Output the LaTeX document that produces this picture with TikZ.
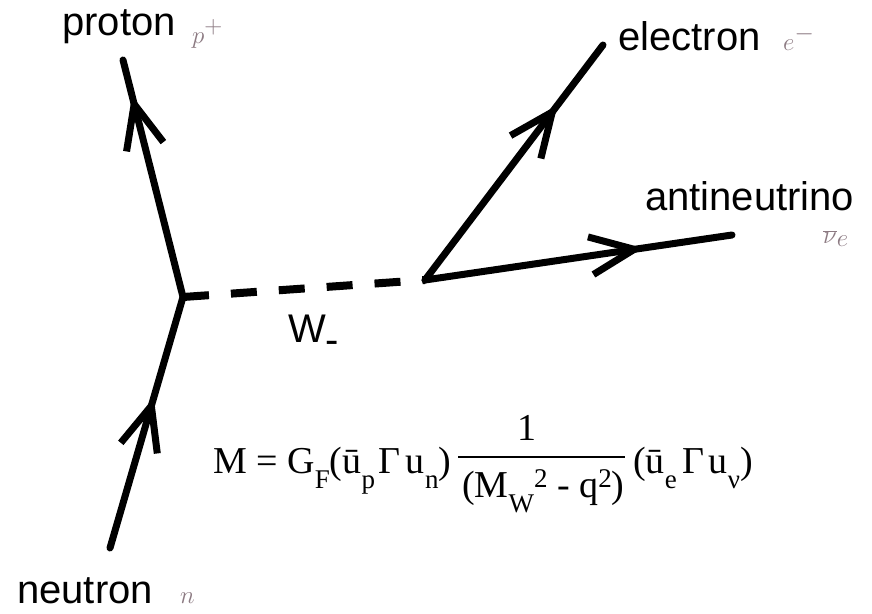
\documentclass[tikz,border=0pt]{standalone}
\usepackage{fontspec}
\usetikzlibrary{arrows.meta,decorations.markings}
\newfontfamily\lblfont{Liberation Sans}
\newfontfamily\eqfont{Liberation Serif}
\definecolor{mathgray}{RGB}{140,122,130}
\newcommand\sbx[1]{\raisebox{-15pt}{\fontsize{27}{27}\selectfont #1}}
\newcommand\spx[1]{\raisebox{10pt}{\fontsize{27}{27}\selectfont #1}}
\tikzset{
  particle/.style={line width=7pt, line cap=round, line join=round},
  midarrow/.style={postaction={decorate,decoration={markings,
     mark=at position #1 with {\arrow{Straight Barb[length=44pt,width=38pt,line width=7pt]}}}}},
  wline/.style={line width=8pt, dash pattern=on 26pt off 22pt},
  lbl/.style={inner sep=0pt, anchor=base west, font=\lblfont\fontsize{40}{44}\selectfont},
  mlbl/.style={inner sep=0pt, anchor=base west, text=mathgray, font=\fontsize{37}{39}\selectfont},
  eq/.style={inner sep=0pt, font=\eqfont\fontsize{38}{42}\selectfont},
}
\begin{document}
\begin{tikzpicture}[x=1pt,y=-1pt]
\useasboundingbox (0,0) rectangle (872,613);
\fill[white] (0,0) rectangle (872,613);
% vertices and ends
\coordinate (v1) at (183,297);
\coordinate (v2) at (425,280);
\coordinate (pend) at (123,60);
\coordinate (nend) at (110,548);
\coordinate (eend) at (603,45);
\coordinate (aend) at (732,235);
% lines
\draw[particle, midarrow=0.85] (v1) -- (pend);
\draw[particle, midarrow=0.60] (nend) -- (v1);
\draw[particle, midarrow=0.745] (v2) -- (eend);
\draw[particle, midarrow=0.71] (v2) -- (aend);
\draw[wline] (v1) -- (v2);
% labels
\node[lbl] (proton) at (62,35) {proton};
\node[mlbl] (pp) at (192,43) {$p^+$};
\node[lbl] (electron) at (618,50) {electron};
\node[mlbl] (em) at (783,50) {$e^-$};
\node[lbl] (anti) at (645,210) {antineutrino};
\node[mlbl] (nue) at (823,243) {$\overline{\nu}_e$};
\node[lbl] (neutron) at (17,603) {neutron};
\node[mlbl, font=\fontsize{28}{30}\selectfont] (nn) at (180,603) {$n$};
\node[lbl] (wlbl) at (288,342) {W\raisebox{-11pt}{-}};
% formula
\node[eq, anchor=base west] (eqL) at (213,473) {M = G\sbx{F}(ū\sbx{p}\hspace{3pt}Γ\hspace{6pt}u\sbx{n})};
\coordinate (barL) at (458,457);
\coordinate (barR) at (625,457);
\draw[line width=2pt] (barL) -- (barR);
\node[eq, anchor=base] (num) at (527,440) {1};
\node[eq, anchor=base west] (den) at (462,497) {(M\sbx{W}\spx{2} - q\spx{2})};
\node[eq, anchor=base west] (eqR) at (633,473) {(ū\sbx{e}\hspace{6pt}Γ\hspace{4pt}u\sbx{ν})};
\end{tikzpicture}
\end{document}
